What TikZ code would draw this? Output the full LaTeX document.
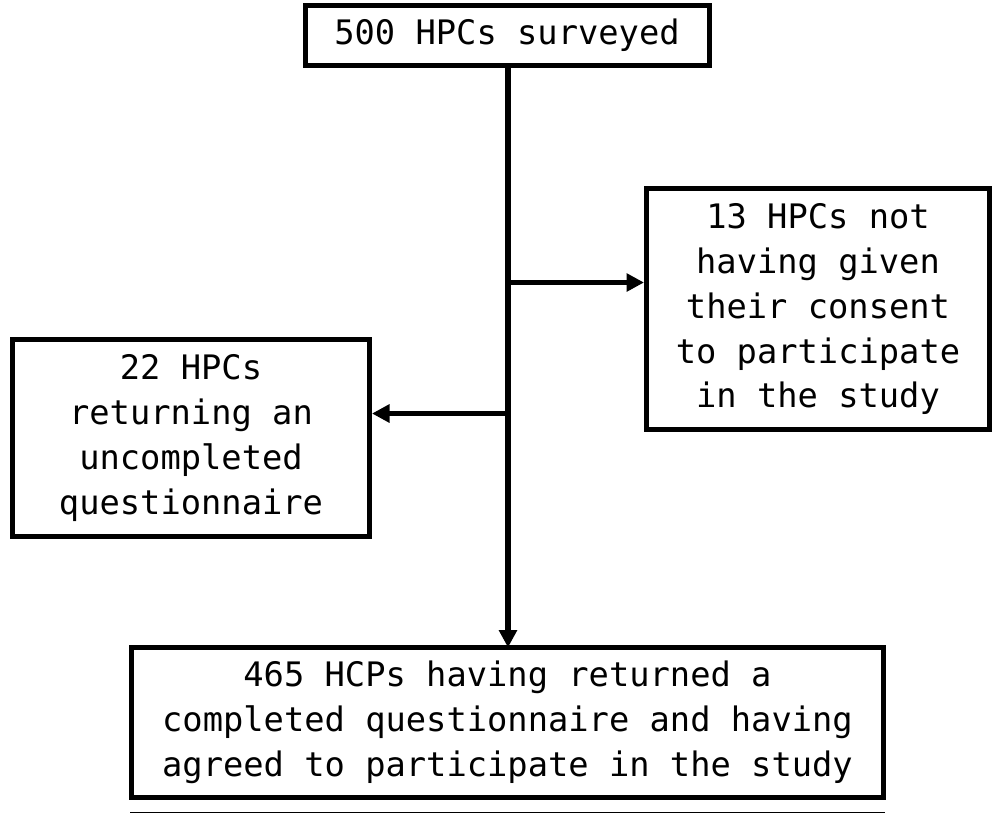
\documentclass[tikz,border=0pt]{standalone}
\usepackage{fontspec}
\setmonofont{DejaVu Sans Mono}
\usetikzlibrary{arrows.meta}
\begin{document}
\begin{tikzpicture}[x=0.2mm,y=-0.2mm,
  box/.style={draw, line width=1mm, inner sep=0pt, align=center,
    font=\ttfamily\fontsize{19.2pt}{25.6pt}\selectfont},
  conn/.style={line width=1.15mm, -{Triangle[length=3.5mm,width=3.5mm]}}]
\useasboundingbox (0,0) rectangle (1000,813);
\node[box, minimum width=80.8mm, minimum height=12.1mm] (top) at (507,35.25) {500 HPCs surveyed};
\node[box, minimum width=68.6mm, minimum height=48.2mm] (right) at (818,309)
  {13 HPCs not\\having given\\their consent\\to participate\\in the study};
\node[box, minimum width=71.4mm, minimum height=39.4mm] (left) at (191,438)
  {22 HPCs\\returning an\\uncompleted\\questionnaire};
\node[box, minimum width=150.4mm, minimum height=30mm] (bottom) at (507.5,722.5)
  {465 HCPs having returned a\\completed questionnaire and having\\agreed to participate in the study};
\coordinate (vtop) at (508,65.5);
\coordinate (vbot) at (508,647.5);
\coordinate (b1) at (508,282.5);
\coordinate (b2) at (508,413.5);
\draw[conn] (vtop) -- (vbot);
\draw[conn] (b1) -- (b1 -| right.west);
\draw[conn] (b2) -- (b2 -| left.east);
\coordinate (l1) at (130,812.5);
\coordinate (l2) at (885,812.5);
\draw[line width=0.35mm] (l1) -- (l2);
\end{tikzpicture}
\end{document}
